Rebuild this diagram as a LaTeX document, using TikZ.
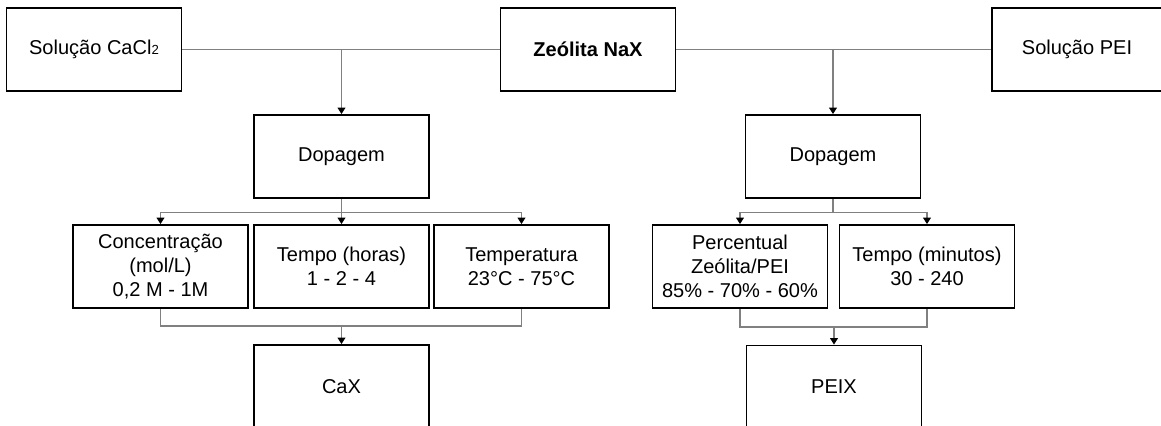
\documentclass[tikz,border=0pt]{standalone}
\usepackage{fontspec}
\setmainfont{Liberation Sans}
\usetikzlibrary{arrows.meta}

\begin{document}
\begin{tikzpicture}[x=0.02cm,y=-0.02cm,
  box/.style={draw,line width=1.1pt,minimum width=3.5cm,minimum height=1.66cm,
              inner sep=2pt,align=center,font=\fontsize{11.4}{13.8}\selectfont},
  link/.style={gray,line width=0.6pt},
  arr/.style={link,-{Triangle[length=3.6pt,width=4.4pt,color=black]}}]
  % Frame (pixel units of the reference)
  \useasboundingbox (0,0) rectangle (1161,426);
  \clip (0,0) rectangle (1161,426);
  % Top row
  \node[box] (solcacl) at (94,49.5) {Solução CaCl{\fontsize{7.5}{9}\selectfont 2}};
  \node[box] (zeolita) at (588,49.5) {\textbf{Zeólita NaX}};
  \node[box,minimum width=3.4cm] (solpei) at (1077,49.5) {Solução PEI};
  % Doping steps
  \node[box] (dopL) at (341.5,156.5) {Dopagem};
  \node[box] (dopR) at (833,156.5) {Dopagem};
  % Parameters (CaX branch)
  \node[box] (conc) at (160.5,266.5) {Concentração\\(mol/L)\\0,2 M - 1M};
  \node[box] (horas) at (341.5,266.5) {Tempo (horas)\\1 - 2 - 4};
  \node[box] (temp) at (521.5,266.5) {Temperatura\\23°C - 75°C};
  % Parameters (PEIX branch)
  \node[box] (perc) at (740,266.5) {Percentual\\Zeólita/PEI\\85\% - 70\% - 60\%};
  \node[box] (minutos) at (927,266.5) {Tempo (minutos)\\30 - 240};
  % Products
  \node[box] (cax) at (341.5,386.5) {CaX};
  \node[box] (peix) at (834,387) {PEIX};
  % Feed lines
  \coordinate (jL) at (dopL.north |- solcacl.east);
  \coordinate (jR) at (dopR.north |- solpei.west);
  \draw[link] (solcacl) -- (zeolita);
  \draw[link] (zeolita) -- (solpei);
  \draw[arr] (jL) -- (dopL);
  \draw[arr] (jR) -- (dopR);
  % Branches to parameters
  \draw[arr] (dopL.south) -- ++(0,14) -| (conc.north);
  \draw[arr] (dopL.south) -- ++(0,14) -| (temp.north);
  \draw[arr] (dopL) -- (horas);
  \draw[arr] (dopR.south) -- ++(0,14) -| (perc.north);
  \draw[arr] (dopR.south) -- ++(0,14) -| (minutos.north);
  % Merge into products
  \coordinate (mL) at (cax.north |- 0,326);
  \coordinate (mR) at (peix.north |- 0,327);
  \draw[link] (conc.south) |- (mL) -| (temp.south);
  \draw[arr] (mL) -- (cax);
  \draw[link] (perc.south) |- (mR) -| (minutos.south);
  \draw[arr] (mR) -- (peix);
\end{tikzpicture}
\end{document}
